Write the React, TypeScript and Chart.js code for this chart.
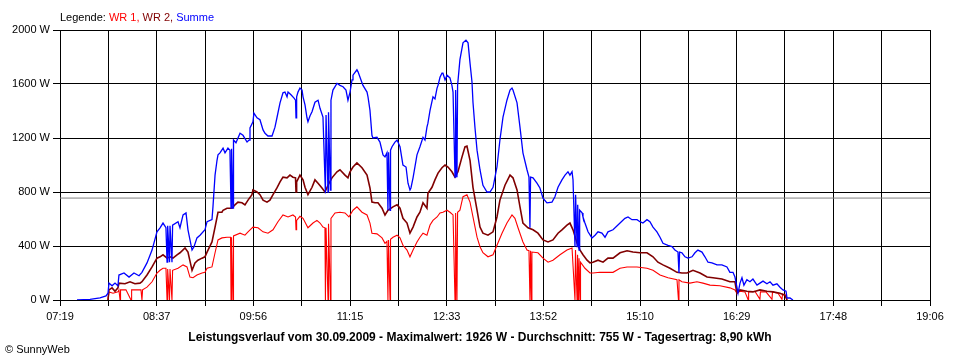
import React, { useEffect, useRef } from "react";
import { Chart, registerables } from "chart.js";

Chart.register(...registerables);

// x values: minutes after 07:19 ; y values: W
const timeLabels = ["07:19", "08:37", "09:56", "11:15", "12:33", "13:52", "15:10", "16:29", "17:48", "19:06"];
const spanMinutes = 707;
const gridDivisions = 18;
const yMax = 2000;
const yStep = 400;
const averageW = 755;

const legendParts = [
  { text: "Legende: ", color: "#000000" },
  { text: "WR 1, ", color: "#FF0000" },
  { text: "WR 2, ", color: "#800000" },
  { text: "Summe", color: "#0000FF" },
];
const titleText = "Leistungsverlauf vom 30.09.2009 - Maximalwert: 1926 W - Durchschnitt: 755 W - Tagesertrag: 8,90 kWh";
const copyrightText = "© SunnyWeb";

const summe: number[][] = [
  [13.8,0],[24.4,5],[32.5,15],[37.4,30],[39.0,50],[39.8,125],[42.3,105],[44.7,125],[47.1,105],[47.9,185],
  [52.0,200],[56.1,170],[60.1,200],[64.2,180],[66.6,205],[70.7,275],[74.8,370],[78.8,505],[81.3,535],[83.7,570],
  [86.1,535],[87.0,280],[87.5,550],[89.0,280],[89.4,550],[91.0,280],[91.5,555],
  [95.9,580],[97.5,535],[100.0,630],[102.4,645],[104.0,520],[107.3,370],[108.9,395],[111.3,460],[113.8,480],[117.8,520],
  [119.5,580],[123.5,595],[124.3,690],[126.0,925],[127.6,1035],[128.4,1075],[130.0,1090],[132.5,1125],[134.1,1090],[136.5,1125],[138.1,1110],
  [139.0,680],[139.4,1120],[140.6,680],[141.0,1185],
  [143.0,1165],[146.3,1235],[148.7,1220],[152.0,1170],[153.6,1185],[154.4,1275],[156.8,1320],[157.6,1385],[160.1,1350],[162.5,1335],[165.0,1260],[166.6,1235],[169.0,1215],[172.3,1215],
  [174.7,1280],[176.3,1350],[178.8,1460],[181.2,1535],[182.8,1540],[184.5,1505],[185.3,1540],[187.7,1520],[190.2,1495],[191.4,1480],[191.8,1350],[192.3,1505],[193.4,1540],
  [195.0,1570],[196.7,1555],[197.5,1505],[199.1,1445],[200.7,1350],[201.5,1320],[203.2,1365],[204.8,1395],[207.2,1465],[209.7,1480],[211.3,1420],[213.7,1355],
  [215.7,790],[216.2,1370],[217.8,800],[218.2,1390],[219.8,815],[220.2,1480],
  [221.8,1555],[225.1,1605],[227.5,1590],[230.0,1580],[232.4,1555],[234.0,1480],[235.7,1540],[237.3,1630],[238.1,1665],[241.3,1705],[242.2,1690],[243.8,1650],
  [246.2,1590],[249.5,1540],[250.3,1505],[251.9,1405],[253.5,1220],[254.3,1200],[257.6,1205],[260.0,1170],[262.5,1075],[264.1,1060],[265.7,1090],
  [266.5,665],[267.0,1095],[268.2,665],[268.6,1110],
  [269.8,1135],[272.2,1170],[273.9,1185],[276.3,1135],[278.7,1000],[281.2,985],[282.8,865],[284.4,815],[285.2,830],[286.9,905],[290.1,1075],[292.5,1135],
  [295.0,1205],[296.6,1185],[298.2,1280],[299.0,1310],[300.7,1405],[303.1,1505],[304.7,1490],[306.4,1570],[307.2,1590],[308.8,1650],[310.4,1680],[311.2,1680],
  [312.9,1630],[314.5,1665],[316.9,1645],[318.5,1590],[319.4,1540],
  [321.0,910],[321.5,1555],[322.6,910],[323.1,1590],
  [325.0,1780],[326.7,1865],[327.5,1905],[329.9,1925],[331.6,1905],[333.2,1755],[334.8,1615],[335.6,1465],[337.2,1280],[338.9,1110],[341.3,965],[343.7,850],
  [347.0,800],[349.4,800],[351.9,835],[355.1,985],[357.5,1185],[360.0,1355],[363.2,1480],[365.7,1555],[367.3,1570],[368.1,1555],[371.4,1460],[373.8,1280],
  [376.2,1090],[379.5,965],[381.1,910],[381.9,535],[382.4,910],
  [384.4,905],[387.6,865],[390.0,830],[392.5,755],[395.7,720],[399.8,725],[402.2,765],[404.7,835],[407.9,890],[410.4,925],[412.8,950],[414.4,925],[416.1,950],[416.9,890],
  [418.5,395],[419.0,780],[420.2,395],[420.7,705],[421.8,370],[422.3,665],
  [424.3,645],[425.0,615],[426.6,570],[429.1,505],[432.3,460],[434.8,480],[437.2,505],[440.4,495],[442.9,465],[445.3,505],[449.4,520],[455.1,570],[459.1,605],
  [461.6,615],[464.8,595],[468.9,595],[471.3,580],[473.7,570],[477.0,595],[479.4,580],[481.9,540],[485.1,505],[487.6,465],[490.0,420],[494.1,405],[497.3,395],
  [499.7,370],[502.2,355],[503.0,200],[503.5,355],
  [505.4,350],[507.9,320],[510.3,310],[513.6,320],[516.0,350],[518.4,370],[521.7,355],[524.1,320],[526.6,280],[529.8,275],[533.9,260],[537.9,260],[542.0,245],
  [544.4,205],[546.9,205],[548.5,170],[550.1,95],[551.0,50],[552.6,125],[554.2,165],[555.8,110],[558.2,150],[560.7,135],[563.1,155],[566.4,110],[568.8,125],
  [571.3,140],[574.5,120],[577.0,135],[579.4,110],[582.6,120],[585.1,95],[587.5,75],[590.0,65],[590.8,15],[593.2,15],[595.6,0],
];

const wr2: number[][] = [
  [39.0,0],[39.8,75],[42.3,90],[44.7,65],[47.1,90],[47.9,125],[52.8,120],[56.9,135],[60.9,120],[65.0,125],[66.6,135],[70.7,185],[74.8,245],[78.8,310],
  [81.3,320],[83.7,335],[87.0,310],[89.4,320],[91.8,310],[95.1,335],[97.5,350],[101.6,385],[104.0,355],[107.3,220],[109.7,275],[112.1,295],[115.4,310],
  [117.8,320],[119.5,355],[123.5,430],[126.0,540],[128.4,650],[131.6,650],[132.5,665],[135.7,680],[139.8,680],[142.2,705],[144.6,725],[147.9,720],[150.3,705],
  [152.8,740],[156.0,780],[156.8,815],[160.1,800],[162.5,780],[165.0,740],[168.2,725],[170.6,740],[173.1,780],[176.3,830],[178.8,875],[181.2,910],[184.5,905],
  [186.9,925],[189.3,910],[191.4,905],[191.8,800],[192.3,875],[195.0,925],[197.5,890],[199.1,835],[201.5,780],[204.8,835],[207.2,890],[209.7,865],[212.9,830],
  [215.3,800],[217.8,850],[221.0,905],[225.1,950],[227.5,965],[231.6,925],[234.0,905],[235.7,950],[238.1,985],[241.3,1015],[245.4,980],[249.5,925],[251.9,830],
  [253.5,725],[256.0,720],[258.4,720],[261.7,680],[264.1,630],[266.5,665],[270.6,690],[273.9,705],[276.3,680],[278.7,605],[282.0,570],[284.4,495],[286.9,540],
  [290.1,615],[292.5,650],[295.0,720],[298.2,680],[299.0,790],[302.3,835],[304.7,890],[307.2,940],[310.4,980],[312.9,1000],[315.3,985],[318.5,950],[321.0,910],
  [323.4,950],[326.7,1060],[329.1,1135],[330.7,1140],[333.2,1035],[335.6,835],[338.9,665],[341.3,540],[343.7,495],[347.8,480],[351.9,505],[355.1,615],[357.5,740],
  [361.6,850],[365.7,925],[368.1,905],[371.4,815],[373.8,690],[376.2,570],[380.3,535],[384.4,520],[388.4,495],[392.5,445],[396.6,430],[400.6,445],[404.7,495],
  [407.9,520],[412.0,555],[414.4,570],[416.9,520],[420.2,420],[422.6,370],[425.0,335],[428.3,295],[430.7,275],[433.1,280],[437.2,295],[441.3,280],[445.3,310],
  [449.4,310],[455.1,350],[460.8,365],[465.6,355],[471.3,350],[477.0,350],[481.9,320],[485.9,280],[490.0,260],[495.7,235],[501.4,205],[505.4,200],[509.5,200],
  [514.4,220],[520.1,200],[525.8,170],[530.6,165],[537.9,155],[544.4,135],[548.5,135],[550.1,50],[552.6,75],[558.2,65],[563.1,60],[568.8,75],[574.5,65],
  [579.4,60],[585.1,50],[589.1,35],[590.8,0],
];

const wr1: number[][] = [
  [39.0,0],[39.8,60],[43.1,50],[47.1,60],[47.9,75],[48.8,0],[49.2,75],[53.6,75],[57.7,0],[58.2,75],[62.6,75],[65.8,75],[66.6,0],[67.1,75],[70.7,95],
  [74.8,135],[78.8,200],[81.3,220],[83.7,235],[86.1,235],[87.0,0],[87.5,230],[89.0,0],[89.4,230],[91.0,0],[91.5,220],[95.9,235],[100.0,260],[103.2,245],
  [105.6,170],[108.1,165],[111.3,185],[115.4,200],[117.8,205],[119.5,235],[123.5,245],[126.0,350],[128.4,445],[131.6,460],[135.7,465],[138.6,465],[139.0,0],
  [139.4,465],[140.6,0],[141.0,475],[146.3,495],[150.3,480],[152.8,505],[156.8,540],[160.9,535],[165.0,505],[169.0,495],[173.1,520],[177.1,580],[181.2,630],
  [185.3,615],[189.3,630],[191.4,615],[191.8,520],[192.3,590],[195.0,620],[197.5,605],[201.5,535],[205.6,570],[208.8,590],[211.3,570],[213.7,540],[215.3,535],
  [215.7,0],[216.2,535],[217.8,0],[218.2,565],[219.8,0],[220.2,605],[223.5,645],[227.5,650],[231.6,645],[234.8,615],[238.1,665],[241.3,690],[245.4,650],
  [249.5,630],[251.9,570],[253.5,495],[257.6,490],[261.7,460],[264.1,420],[265.7,435],[266.5,0],[267.0,445],[268.2,0],[268.6,450],[270.6,465],[273.9,480],
  [276.3,460],[278.7,405],[282.0,370],[284.4,320],[286.9,370],[290.1,430],[292.5,465],[295.0,495],[298.2,480],[300.7,555],[303.1,590],[306.4,615],[308.8,645],
  [311.2,650],[314.5,665],[316.9,650],[319.4,630],[321.0,0],[321.5,645],[322.6,0],[323.1,650],[325.0,665],[327.5,765],[330.7,780],[333.2,725],[335.6,615],
  [338.9,465],[341.3,395],[343.7,350],[347.8,320],[351.9,335],[355.1,405],[359.2,495],[363.2,570],[367.3,630],[369.7,605],[372.2,535],[376.2,430],[379.5,370],
  [381.1,365],[381.9,0],[382.4,365],[383.1,0],[383.5,355],[388.4,350],[392.5,310],[396.6,280],[400.6,295],[406.3,335],[412.0,370],[416.1,385],[418.5,0],
  [418.9,370],[420.2,0],[420.6,335],[421.4,0],[421.8,310],[422.6,0],[423.0,280],[426.6,235],[430.7,200],[433.1,200],[438.8,205],[444.5,205],[449.4,205],
  [455.1,235],[460.8,245],[468.9,245],[477.0,235],[481.9,220],[487.6,185],[494.1,165],[501.4,150],[502.6,0],[503.0,150],[505.4,135],[511.9,125],[517.6,135],
  [522.5,125],[528.2,110],[536.3,105],[544.4,90],[548.5,75],[550.1,50],[552.6,65],[556.6,60],[559.1,5],[559.6,60],[564.7,65],[568.8,5],[569.2,60],[573.7,60],
  [578.6,5],[579.0,60],[583.5,50],[586.7,5],[587.2,45],[590.0,35],[590.8,0],
];

const FONT = '"Liberation Sans", Arial, sans-serif';

const toPoints = (arr: number[][]) => arr.map(([x, y]) => ({ x, y }));

export default function App() {
  const canvasRef = useRef<HTMLCanvasElement | null>(null);

  useEffect(() => {
    if (!canvasRef.current) return;
    const textPlugin = {
      id: "sunnyTexts",
      afterDraw(chart: any) {
        const ctx = chart.ctx;
        const area = chart.chartArea;
        ctx.save();
        ctx.textBaseline = "alphabetic";
        ctx.textAlign = "left";
        ctx.font = `11px ${FONT}`;
        let x = area.left;
        for (const p of legendParts) {
          ctx.fillStyle = p.color;
          ctx.fillText(p.text, x, 21);
          x += ctx.measureText(p.text).width;
        }
        ctx.fillStyle = "#000";
        ctx.font = `bold 12px ${FONT}`;
        ctx.textAlign = "center";
        ctx.fillText(titleText, chart.width / 2, 341);
        ctx.font = `11px ${FONT}`;
        ctx.textAlign = "left";
        ctx.fillText(copyrightText, 5, 353);
        ctx.restore();
      },
    };

    const chart = new Chart(canvasRef.current, {
      type: "line",
      data: {
        datasets: [
          { label: "Summe", data: toPoints(summe), borderColor: "#0000FF", borderWidth: 1.3 },
          { label: "WR 2", data: toPoints(wr2), borderColor: "#800000", borderWidth: 1.6 },
          { label: "WR 1", data: toPoints(wr1), borderColor: "#FF0000", borderWidth: 1.1 },
          {
            label: "Durchschnitt",
            data: [{ x: 0, y: averageW }, { x: spanMinutes, y: averageW }],
            borderColor: "#808080",
            borderWidth: 1,
          },
        ],
      },
      options: {
        responsive: false,
        animation: false,
        devicePixelRatio: 1,
        layout: { padding: { top: 30, right: 30, left: 0, bottom: 0 } },
        elements: { point: { radius: 0 }, line: { tension: 0 } },
        plugins: { legend: { display: false }, tooltip: { enabled: false }, title: { display: false } },
        scales: {
          x: {
            type: "linear",
            min: 0,
            max: spanMinutes,
            afterBuildTicks: (s: any) => {
              s.ticks = Array.from({ length: gridDivisions + 1 }, (_, i) => ({ value: (i * spanMinutes) / gridDivisions }));
            },
            afterFit: (s: any) => {
              s.height = 60;
            },
            grid: { color: "#000", lineWidth: 1, tickLength: 6, drawTicks: true },
            border: { color: "#000", width: 1 },
            ticks: {
              autoSkip: false,
              maxRotation: 0,
              padding: 4,
              color: "#000",
              font: { size: 11, family: FONT },
              callback: (_v: any, i: number) => (i % 2 === 0 ? timeLabels[i / 2] : ""),
            },
          },
          y: {
            min: 0,
            max: yMax,
            afterFit: (s: any) => {
              s.width = 60;
            },
            grid: { color: "#000", lineWidth: 1, tickLength: 7, drawTicks: true },
            border: { color: "#000", width: 1 },
            ticks: {
              stepSize: yStep,
              padding: 3,
              color: "#000",
              font: { size: 11, family: FONT },
              callback: (v: any) => `${v} W`,
            },
          },
        },
      },
      plugins: [textPlugin],
    } as any);
    return () => chart.destroy();
  }, []);

  return (
    <div style={{ position: "absolute", left: 0, top: 0, width: 960, height: 360, background: "#fff" }}>
      <canvas ref={canvasRef} width={960} height={360} style={{ display: "block" }} />
    </div>
  );
}
